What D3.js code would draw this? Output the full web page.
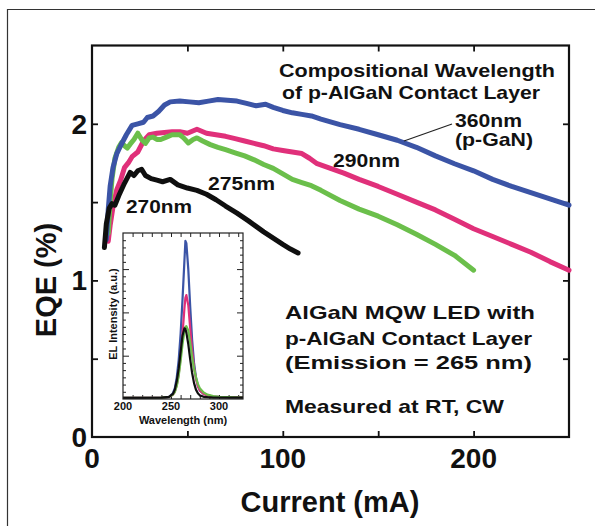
<!DOCTYPE html>
<html><head><meta charset="utf-8">
<script src="https://cdn.jsdelivr.net/npm/d3@7/dist/d3.min.js"></script>
<style>body{margin:0;background:#fff}svg{display:block}text{font-family:"Liberation Sans",Arial,Helvetica,sans-serif;font-weight:bold;fill:#111}</style>
</head><body><svg id="c" width="595" height="526"></svg>
<script>
// ---- main EQE data: [current mA, EQE %] ----
const eqe360 = [[7.5,1.26],[8.5,1.45],[9.5,1.6],[11,1.72],[13,1.81],[15,1.86],[18,1.93],[21,1.99],[24,2.0],[27,2.01],[29,2.04],[32,2.05],[35,2.08],[38,2.12],[41,2.14],[46,2.145],[51,2.14],[56,2.135],[61,2.145],[66,2.155],[71,2.15],[76,2.145],[81,2.13],[86,2.115],[91,2.125],[95,2.105],[100,2.085],[105,2.07],[110,2.06],[115,2.05],[120,2.03],[130,1.995],[140,1.965],[150,1.93],[160,1.895],[170,1.85],[180,1.795],[190,1.745],[200,1.7],[210,1.645],[220,1.6],[230,1.56],[240,1.52],[250,1.48]];
const eqe290 = [[8.5,1.25],[9.5,1.35],[11,1.47],[13,1.58],[15,1.64],[17,1.72],[19,1.75],[21,1.79],[24,1.82],[27,1.89],[30,1.93],[34,1.94],[38,1.945],[42,1.95],[46,1.95],[50,1.94],[55,1.965],[60,1.94],[65,1.93],[70,1.92],[75,1.905],[80,1.89],[85,1.875],[90,1.86],[95,1.84],[100,1.83],[105,1.82],[110,1.81],[114,1.78],[118,1.745],[125,1.715],[132,1.685],[140,1.645],[150,1.6],[160,1.55],[170,1.5],[180,1.45],[190,1.39],[200,1.33],[210,1.28],[220,1.23],[230,1.18],[240,1.12],[250,1.065]];
const eqe275 = [[8.5,1.3],[9.5,1.5],[10.5,1.65],[12,1.78],[14,1.85],[15.5,1.88],[17,1.86],[18.5,1.845],[20,1.87],[22,1.9],[24,1.94],[26,1.9],[28,1.875],[30,1.91],[32,1.915],[34,1.9],[36,1.9],[39,1.915],[42,1.93],[46,1.93],[48,1.91],[50.5,1.878],[53,1.9],[55,1.91],[58,1.89],[62,1.867],[66,1.85],[70,1.835],[75,1.815],[80,1.795],[85,1.77],[90,1.74],[95,1.715],[100,1.68],[105,1.645],[110,1.625],[115,1.605],[120,1.575],[130,1.51],[140,1.455],[150,1.41],[160,1.355],[170,1.295],[180,1.23],[190,1.16],[200,1.065]];
const eqe270 = [[6.5,1.21],[7.5,1.36],[9,1.46],[10.5,1.49],[12,1.48],[14,1.54],[17,1.62],[20,1.69],[22,1.67],[24,1.70],[26,1.71],[28,1.67],[31,1.65],[34,1.64],[37,1.63],[41,1.645],[45,1.61],[50,1.59],[55,1.575],[60,1.55],[65,1.515],[70,1.475],[76,1.43],[82,1.38],[86,1.345],[90,1.31],[95,1.27],[100,1.23],[104,1.2],[108,1.175]];
const xTicksMajor = [0,100,200];
const xTicksMinor = [50,150];
const yTicksMajor = [0,1,2];
const yTicksMinor = [0.5,1.5];

// ---- inset EL spectra ----
const wavelengths = [200,220,240,248,252,254,256,258,260,262,264,265,266,268,270,272,274,276,278,280,284,288,294,300,310,325];
const el360 = [0.15,0.15,0.2,0.3,0.8,1.5,3.0,5.4,9.0,13.8,19.2,21.9,21.6,18.0,12.8,8.2,5.0,3.0,1.8,1.2,0.7,0.5,0.35,0.3,0.25,0.2];
const el290 = [0.15,0.15,0.2,0.3,0.6,1.0,1.9,3.4,5.8,9.0,12.6,14.0,14.4,13.0,9.8,6.7,4.4,2.8,1.8,1.2,0.7,0.5,0.35,0.3,0.25,0.2];
const el275 = [0.15,0.15,0.2,0.3,0.6,1.0,1.8,3.2,5.2,7.6,9.4,10.0,10.1,9.5,7.8,5.8,4.2,3.0,2.1,1.5,0.9,0.6,0.4,0.3,0.25,0.2];
const el270 = [0.15,0.15,0.2,0.3,0.7,1.3,2.5,4.2,6.5,8.8,9.8,9.7,9.2,7.6,5.5,3.6,2.2,1.3,0.8,0.5,0.3,0.25,0.2,0.2,0.2,0.2];
const insetXLabels = [200,250,300];

const colors = {c360:"#3b54a6", c290:"#e0307a", c275:"#6bbf4b", c270:"#0f0f0f"};

const svg = d3.select("#c");
// outer frame
svg.append("path").attr("d","M7.5,526 L7.5,9.5 L595,9.5").attr("fill","none").attr("stroke","#333").attr("stroke-width",1.2);

const x = d3.scaleLinear().domain([0,250]).range([92,569]);
const y = d3.scaleLinear().domain([0,2.5]).range([437,45.5]);

const g = svg.append("g");
const tk = 6;
// axes with inward ticks
function axis(gen, tr, vals, len){
  const a = g.append("g").attr("transform",tr).call(gen.tickValues(vals).tickSize(-len).tickFormat(""));
  a.select(".domain").remove();
  a.selectAll("line").attr("stroke","#111").attr("stroke-width",1.8);
}
const allX = xTicksMajor.concat(xTicksMinor).filter(v=>v>0);
const allY = yTicksMajor.concat(yTicksMinor).filter(v=>v>0);
axis(d3.axisBottom(x),"translate(0,437)",allX,tk);
axis(d3.axisTop(x),"translate(0,45.5)",allX,tk);
axis(d3.axisLeft(y),"translate(92,0)",allY,tk);
axis(d3.axisRight(y),"translate(569,0)",allY,tk);
g.append("rect").attr("x",92).attr("y",45.5).attr("width",477).attr("height",391.5).attr("fill","none").attr("stroke","#111").attr("stroke-width",2.2);

// tick labels
g.selectAll(".xl").data(xTicksMajor).join("text").attr("x",d=>x(d)).attr("y",468).attr("text-anchor","middle").attr("font-size",28).text(d=>d);
g.selectAll(".yl").data(yTicksMajor).join("text").attr("x",87).attr("y",d=>y(d)+10).attr("text-anchor","end").attr("font-size",28).text(d=>d);
g.append("text").attr("x",330).attr("y",512).attr("text-anchor","middle").attr("font-size",29).text("Current (mA)");
g.append("text").attr("transform","translate(56,280) rotate(-90)").attr("text-anchor","middle").attr("font-size",29).text("EQE (%)");

// curves
const line = d3.line().x(d=>x(d[0])).y(d=>y(d[1]));
[[eqe290,colors.c290],[eqe275,colors.c275],[eqe360,colors.c360],[eqe270,colors.c270]].forEach(([d,c])=>{
  g.append("path").datum(d).attr("d",line).attr("fill","none").attr("stroke",c).attr("stroke-width",5).attr("stroke-linejoin","round").attr("stroke-linecap","round");
});

// annotations
function label(t,xx,yy,fs,len){
  const e = g.append("text").attr("x",xx).attr("y",yy).attr("font-size",fs).text(t);
  if(len) e.attr("textLength",len).attr("lengthAdjust","spacingAndGlyphs");
  return e;
}
label("Compositional Wavelength",279,77,19,276);
label("of p-AlGaN Contact Layer",282,98.5,19,258);
label("360nm",455,127,19,67);
label("(p-GaN)",455,146,19,78);
label("290nm",333,167,19,67);
label("275nm",208,190,19,67);
label("270nm",126,212.5,19,66);
g.append("line").attr("x1",452).attr("y1",124).attr("x2",404).attr("y2",141).attr("stroke","#222").attr("stroke-width",1.2);
label("AlGaN MQW LED with",285,319,19,250);
label("p-AlGaN Contact Layer",285,345,19,247);
label("(Emission = 265 nm)",285,369,19,247);
label("Measured at RT, CW",285,413,19,219);

// inset
const ix = d3.scaleLinear().domain([200,325]).range([123,243]);
const iy = d3.scaleLinear().domain([0,23]).range([399,233]);
const ig = svg.append("g");
ig.append("rect").attr("x",123).attr("y",233).attr("width",120).attr("height",166).attr("fill","#fff");
const ixt = d3.range(210,325,10);
function iaxis(gen,tr,vals,len,filt){
  const a = ig.append("g").attr("transform",tr).call(gen.tickValues(vals).tickSize(-len).tickFormat(""));
  a.select(".domain").remove();
  a.selectAll("line").attr("stroke","#222").attr("stroke-width",1);
}
const iyMinor = d3.range(1,23,1).filter(v=>v%6!==0);
const iyMajor = [6,12,18];
iaxis(d3.axisBottom(ix),"translate(0,399)",ixt,4);
iaxis(d3.axisTop(ix),"translate(0,233)",ixt,4);
iaxis(d3.axisLeft(iy),"translate(123,0)",iyMinor,3);
iaxis(d3.axisLeft(iy),"translate(123,0)",iyMajor,6);
iaxis(d3.axisRight(iy),"translate(243,0)",iyMinor,3);
iaxis(d3.axisRight(iy),"translate(243,0)",iyMajor,6);
const iline = d3.line().x((d,i)=>ix(wavelengths[i])).y(d=>iy(d));
[[el360,colors.c360],[el290,colors.c290],[el275,colors.c275],[el270,colors.c270]].forEach(([d,c])=>{
  ig.append("path").datum(d).attr("d",iline).attr("fill","none").attr("stroke",c).attr("stroke-width",2.2).attr("stroke-linejoin","round");
});
ig.append("rect").attr("x",123).attr("y",233).attr("width",120).attr("height",166).attr("fill","none").attr("stroke","#222").attr("stroke-width",1.2);
ig.selectAll(".il").data(insetXLabels).join("text").attr("x",d=>ix(d)).attr("y",410).attr("text-anchor","middle").attr("font-size",11).text(d=>d);
ig.append("text").attr("x",183).attr("y",424).attr("text-anchor","middle").attr("font-size",11).text("Wavelength (nm)");
ig.append("text").attr("transform","translate(117,314) rotate(-90)").attr("text-anchor","middle").attr("font-size",11).text("EL Intensity (a.u.)");
</script></body></html>
